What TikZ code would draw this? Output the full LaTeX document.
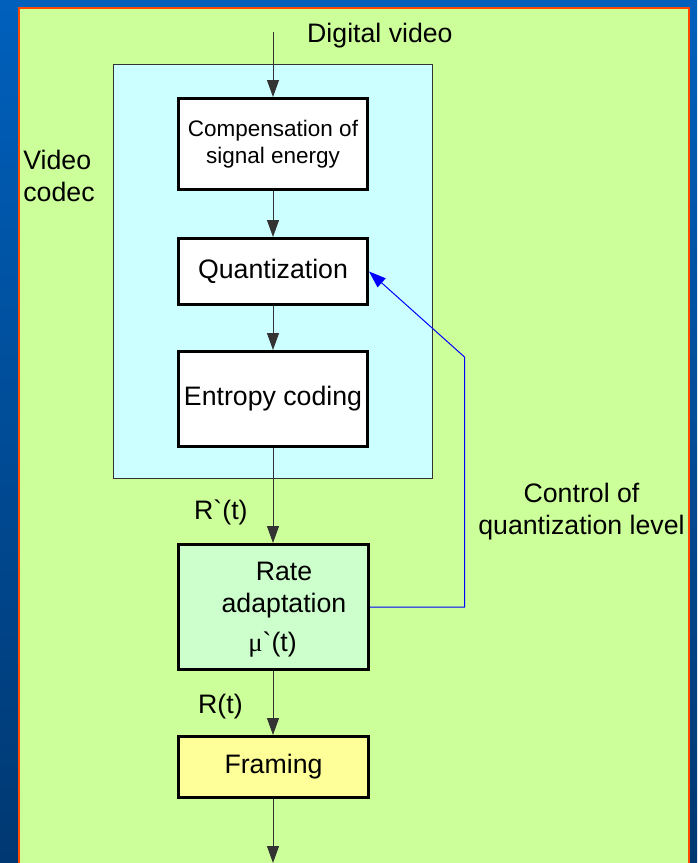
\documentclass[tikz,border=0pt]{standalone}
\usepackage{fontspec}
\setmainfont{Liberation Sans}
\newfontfamily\greekfont{Liberation Serif}
\usetikzlibrary{arrows.meta}
\definecolor{bgtop}{RGB}{0,96,188}
\definecolor{bgbot}{RGB}{0,56,114}
\definecolor{panel}{HTML}{CCFF99}
\definecolor{edgeorange}{HTML}{FF4A00}
\definecolor{codecfill}{HTML}{CCFFFF}
\definecolor{ratefill}{HTML}{CCFFCC}
\definecolor{framefill}{HTML}{FFFF99}
\definecolor{wire}{HTML}{333333}
\definecolor{feedback}{HTML}{0000FF}
\begin{document}
\begin{tikzpicture}[x=1pt,y=-1pt,
  bigtext/.style={font=\fontsize{26.7}{32}\selectfont},
  smalltext/.style={font=\fontsize{22.5}{27}\selectfont},
  block/.style={draw=black, line width=3pt, minimum width=189pt, inner sep=0pt, align=center},
  flow/.style={draw=wire, line width=1pt, -{Triangle[length=17pt,width=12pt]}},
  fback/.style={draw=feedback, line width=1pt, -{Triangle[length=17pt,width=12pt]}},
  lbl/.style={inner sep=0pt, text=black}
]
\useasboundingbox (0,0) rectangle (697,863);
% background
\shade[top color=bgtop, bottom color=bgbot] (0,0) rectangle (697,863);
\filldraw[fill=panel, draw=edgeorange, line width=2.5pt] (19.2,8.2) rectangle (689,880);
% codec area
\filldraw[fill=codecfill, draw=wire, line width=1pt] (113.5,64.5) rectangle (432.5,478.5);

% blocks
\node[block, smalltext, fill=white, minimum height=91pt] (comp) at (273,144) {Compensation of\\signal energy};
\node[block, bigtext, fill=white, minimum height=66pt] (quant) at (273,271.5) {Quantization};
\node[block, bigtext, fill=white, minimum height=95pt] (entropy) at (273,399) {Entropy coding};
\node[block, fill=ratefill, minimum height=125pt, minimum width=190pt] (rate) at (273.5,607) {};
\node[lbl, bigtext, align=center] (ratetext) at (284,590) {Rate\\adaptation};
\node[lbl, bigtext] (mutext) at (272.5,645) {{\greekfont μ}\textasciigrave(t)};
\node[block, bigtext, fill=framefill, minimum height=61pt, minimum width=190pt] (framing) at (273.5,767) {Framing};

% labels
\node[lbl, bigtext, anchor=base west] (digital) at (307,42) {Digital video};
\node[lbl, bigtext, align=left] (codec) at (59,176) {Video\\codec};
\node[lbl, bigtext, anchor=base west] (rprime) at (194,519) {R\textasciigrave(t)};
\node[lbl, bigtext, anchor=base west] (rt) at (198,713) {R(t)};
\node[lbl, bigtext, align=center] (control) at (581.5,512) {Control of\\quantization level};

% connectors
\coordinate (in) at (273,32);
\coordinate (out) at (273,863);
\draw[flow] (in) -- (comp.north);
\draw[flow] (comp.south) -- (quant.north);
\draw[flow] (quant.south) -- (entropy.north);
\draw[flow] (entropy.south) -- (entropy.south |- rate.north);
\draw[flow] (rate.south -| out) -- (framing.north -| out);
\draw[flow] (framing.south -| out) -- (out);
\draw[fback] (rate.east) -- (464.5,607) -- (464.5,357) -- (quant.east);
\end{tikzpicture}
\end{document}
